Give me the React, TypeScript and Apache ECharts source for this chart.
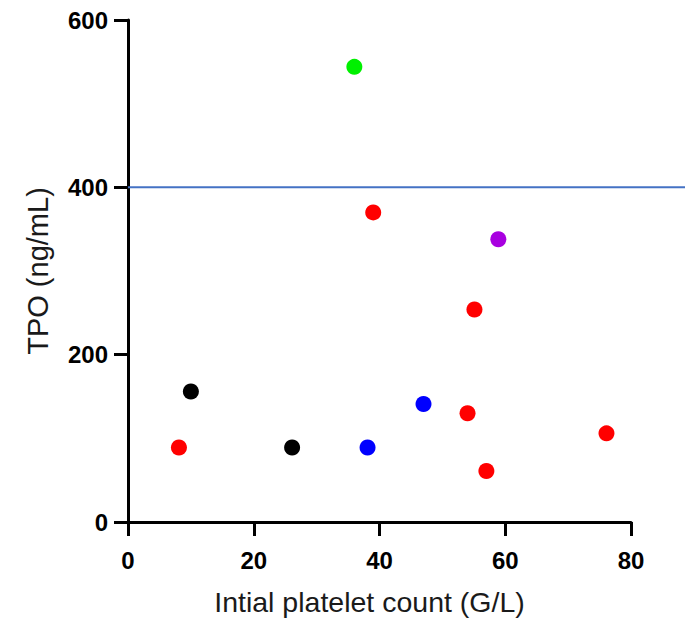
import React, { useEffect, useRef } from "react";
import * as echarts from "echarts";

const xTitle = "Intial platelet count (G/L)";
const yTitle = "TPO (ng/mL)";
const xTicks = [0, 20, 40, 60, 80];
const yTicks = [0, 200, 400, 600];
const thresholdValue = 400;

const redPoints: [number, number][] = [
  [8.1, 89],
  [39, 370],
  [55.1, 254],
  [54, 130],
  [57, 61],
  [76.1, 106],
];
const blackPoints: [number, number][] = [
  [10, 156],
  [26.1, 89],
];
const bluePoints: [number, number][] = [
  [38.1, 89],
  [47, 141],
];
const greenPoints: [number, number][] = [[36, 544]];
const purplePoints: [number, number][] = [[58.9, 338]];

const groups = [
  { name: "red", color: "#ff0000", data: redPoints },
  { name: "black", color: "#000000", data: blackPoints },
  { name: "blue", color: "#0000ff", data: bluePoints },
  { name: "green", color: "#00f000", data: greenPoints },
  { name: "purple", color: "#a800e0", data: purplePoints },
];

export default function App() {
  const ref = useRef<HTMLDivElement>(null);
  useEffect(() => {
    if (!ref.current) return;
    document.body.style.margin = "0";
    const chart = echarts.init(ref.current, null, { renderer: "svg" });
    const font = "Liberation Sans, Arial, sans-serif";
    chart.setOption({
      animation: false,
      backgroundColor: "#ffffff",
      grid: [
        { left: 128, right: 54, top: 20, bottom: 100, containLabel: false },
        { left: 128, right: 0, top: 20, bottom: 100, containLabel: false },
      ],
      xAxis: [
        {
          type: "value",
          gridIndex: 0,
          min: xTicks[0],
          max: xTicks[xTicks.length - 1],
          interval: 20,
          name: xTitle,
          nameLocation: "middle",
          nameGap: 65,
          nameTextStyle: {
            fontFamily: font,
            fontSize: 28.5,
            color: "#1a1a1a",
            padding: [0, 20, 0, 0],
          },
          axisLine: { show: true, lineStyle: { color: "#000", width: 3 } },
          axisTick: { show: true, length: 14, lineStyle: { color: "#000", width: 3 } },
          axisLabel: {
            margin: 26,
            fontFamily: font,
            fontSize: 24,
            fontWeight: "bold",
            color: "#000",
          },
          splitLine: { show: false },
        },
        {
          type: "value",
          gridIndex: 1,
          min: 0,
          max: 1,
          show: false,
        },
      ],
      yAxis: [
        {
          type: "value",
          gridIndex: 0,
          min: yTicks[0],
          max: yTicks[yTicks.length - 1],
          interval: 200,
          name: yTitle,
          nameLocation: "middle",
          nameGap: 76,
          nameTextStyle: { fontFamily: font, fontSize: 29, color: "#1a1a1a" },
          axisLine: { show: true, lineStyle: { color: "#000", width: 3 } },
          axisTick: { show: true, length: 14, lineStyle: { color: "#000", width: 3 } },
          axisLabel: {
            margin: 20,
            fontFamily: font,
            fontSize: 24,
            fontWeight: "bold",
            color: "#000",
          },
          splitLine: { show: false },
        },
        {
          type: "value",
          gridIndex: 1,
          min: yTicks[0],
          max: yTicks[yTicks.length - 1],
          show: false,
        },
      ],
      series: [
        {
          type: "line",
          xAxisIndex: 1,
          yAxisIndex: 1,
          data: [
            [0, thresholdValue],
            [1, thresholdValue],
          ],
          symbol: "none",
          lineStyle: { color: "#4472c4", width: 2 },
          silent: true,
          z: 1,
        },
        ...groups.map((g) => ({
          type: "scatter",
          name: g.name,
          xAxisIndex: 0,
          yAxisIndex: 0,
          data: g.data,
          symbol: "circle",
          symbolSize: 16,
          itemStyle: { color: g.color, opacity: 1 },
          z: 3,
        })),
      ],
    });
    return () => chart.dispose();
  }, []);
  return <div ref={ref} style={{ width: 685, height: 622 }} />;
}
